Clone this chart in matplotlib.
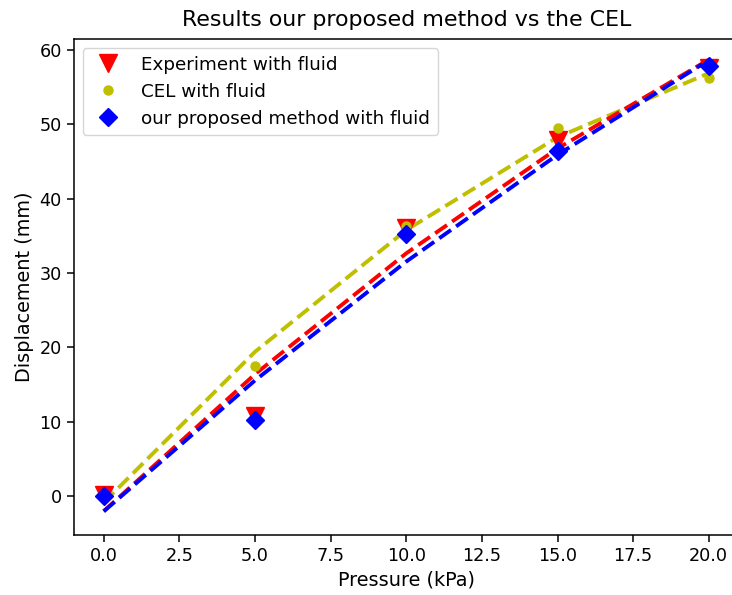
import numpy as np
import matplotlib
matplotlib.use("Agg")
import matplotlib.pyplot as plt

pressure = [0.0, 5.0, 10.0, 15.0, 20.0]
experiment = [0.2, 10.8, 36.0, 47.9, 57.6]
cel = [0.0, 17.5, 36.3, 49.5, 56.2]
proposed = [0.0, 10.2, 35.2, 46.4, 57.8]

W, H = 732, 595
fig = plt.figure(figsize=(W / 100, H / 100), dpi=100)
left, right, top, bottom = 73.5, 739.0, 39.0, 535.0
ax = fig.add_axes([left / W, 1 - bottom / H, (right - left) / W, (bottom - top) / H])

x = np.array(pressure)
for ys, col in [(cel, 'y'), (experiment, 'r'), (proposed, 'b')]:
    p = np.poly1d(np.polyfit(x, np.array(ys), 2))
    ax.plot(x, p(x), '--', color=col, lw=2.8)

ax.plot(pressure, experiment, 'v', color='r', ms=13, label='Experiment with fluid')
ax.plot(pressure, cel, 'o', color='y', ms=6.5, label='CEL with fluid')
ax.plot(pressure, proposed, 'D', color='b', ms=9.5, label='our proposed method with fluid')

ax.set_xlim(-1, 21)
ax.set_ylim(-5.25, 61.5)
ax.set_xticks(np.arange(0, 20.1, 2.5))
ax.tick_params(labelsize=12.7, length=5, width=1.1)
for s in ax.spines.values():
    s.set_linewidth(1.1)
ax.set_xlabel('Pressure (kPa)', fontsize=13.9)
ax.set_ylabel('Displacement (mm)', fontsize=13.9)
ax.set_title('Results our proposed method vs the CEL', fontsize=15.9, pad=9)
ax.legend(loc='upper left', fontsize=13.2)

fig.savefig('out.png', dpi=100)
